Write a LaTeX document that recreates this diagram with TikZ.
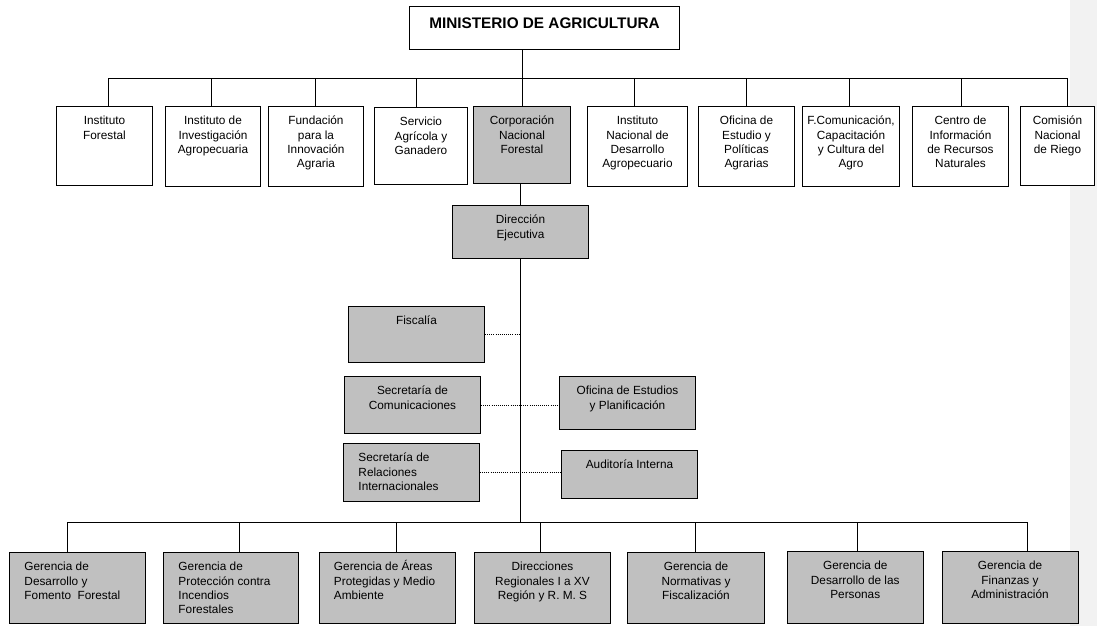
\documentclass[tikz,border=0pt]{standalone}
\usepackage{fontspec}
\setmainfont{Liberation Sans}
\usepackage{xcolor}
\usepackage{tikz}

\definecolor{cellgray}{RGB}{192,192,192}
\definecolor{margingray}{RGB}{242,242,242}
\newlength{\px}\setlength{\px}{0.025cm}
% box text: width, height (px), alignment, text
\newcommand{\cell}[4]{\parbox[c][#2\px][t]{#1\px}{#3\rule{0pt}{13pt}#4}}
\newcommand{\ctrbox}[3]{\cell{#1}{#2}{\centering}{#3}}
\newcommand{\lftbox}[3]{\cell{#1}{#2}{\raggedright\leftskip=15\px\relax}{#3}}

\tikzset{
  orgbox/.style={draw, inner sep=0pt, anchor=north west, line width=0.7pt},
  shaded/.style={orgbox, fill=cellgray},
  link/.style={line width=0.7pt},
  aux/.style={densely dotted, line width=0.5pt}
}

\begin{document}
\begin{tikzpicture}[x=0.025cm, y=-0.025cm, font=\fontsize{8.4pt}{10.2pt}\selectfont]
		\useasboundingbox (0,0) rectangle (1097,626);
		\fill[margingray] (1070,0) rectangle (1097,626);
		
		% ministerio and services
		\node[orgbox,fill=white] (mina) at (409,6) {\cell{270}{43}{\centering\vspace*{3pt}\bfseries\fontsize{10.9pt}{13pt}\selectfont}{MINISTERIO DE AGRICULTURA}};
		\node[orgbox] (t1) at (56,106) {\ctrbox{96}{79}{Instituto\\Forestal}};
		\node[orgbox] (t2) at (165,106) {\ctrbox{95}{80}{Instituto de\\Investigación\\Agropecuaria}};
		\node[orgbox] (t3) at (268,106) {\ctrbox{95}{80}{Fundación\\para la\\Innovación\\Agraria}};
		\node[orgbox] (t4) at (374,107) {\ctrbox{93}{77}{Servicio\\Agrícola y\\Ganadero}};
		\node[shaded] (t5) at (473,106) {\ctrbox{97}{77}{Corporación\\Nacional\\Forestal}};
		\node[orgbox] (t6) at (587,106) {\ctrbox{100}{80}{Instituto\\Nacional de\\Desarrollo\\Agropecuario}};
		\node[orgbox] (t7) at (698,106) {\ctrbox{96}{80}{Oficina de\\Estudio y\\Políticas\\Agrarias}};
		\node[orgbox] (t8) at (802,106) {\ctrbox{97}{80}{F.Comunicación,\\Capacitación\\y Cultura del\\Agro}};
		\node[orgbox] (t9) at (912,106) {\ctrbox{96}{80}{Centro de\\Información\\de Recursos\\Naturales}};
		\node[orgbox,fill=white] (t10) at (1020,106) {\ctrbox{74}{79}{Comisión\\Nacional\\de Riego}};
		
		% conaf
		\node[shaded] (dir) at (452,205) {\ctrbox{136}{53}{Dirección\\Ejecutiva}};
		\node[shaded] (fis) at (348,306) {\ctrbox{136}{56}{Fiscalía}};
		\node[shaded] (sc) at (344,376) {\ctrbox{136}{57}{Secretaría de\\Comunicaciones}};
		\node[shaded] (ofi) at (559,376) {\ctrbox{136}{53}{Oficina de Estudios\\y Planificación}};
		\node[shaded] (rel) at (343,443) {\lftbox{136}{58}{Secretaría de\\Relaciones\\Internacionales}};
		\node[shaded] (aud) at (561,450) {\ctrbox{136}{48}{Auditoría Interna}};
		
		\node[shaded] (b1) at (9,552) {\lftbox{136}{71}{Gerencia de\\Desarrollo y\\Fomento~ Forestal}};
		\node[shaded] (b2) at (163,552) {\lftbox{135}{71}{Gerencia de\\Protección contra\\Incendios\\Forestales}};
		\node[shaded] (b3) at (318.5,552) {\lftbox{136.5}{71}{Gerencia de Áreas\\Protegidas y Medio\\Ambiente}};
		\node[shaded] (b4) at (474,552) {\ctrbox{136}{71}{Direcciones\\Regionales I a XV\\Región y R. M. S}};
		\node[shaded] (b5) at (627,552) {\ctrbox{137}{71}{Gerencia de\\Normativas y\\Fiscalización}};
		\node[shaded] (b6) at (786.5,551) {\ctrbox{136.5}{72}{Gerencia de\\Desarrollo de las\\Personas}};
		\node[shaded] (b7) at (941.5,551) {\ctrbox{136}{72}{Gerencia de\\Finanzas y\\Administración}};
		
		% lines
		\coordinate (busL) at (108,78);
		\coordinate (busR) at (1067,78);
		\draw[link] (mina.south -| t5.north) -- (t5.north);
		\draw[link] (busL |- t1.north) -- (busL) -- (busR) -- (busR |- t10.north);
		\foreach \n/\x in {t2/211.5,t3/315,t4/416,t6/634.5,t7/746,t8/849.5,t9/961.5}
			\draw[link] (\x,78) -- (\n.north -| \x,0);
		\draw[link] (dir.north) -- (dir.north |- t5.south);
		
		\coordinate (botL) at (67,522.5);
		\coordinate (botR) at (1027.7,522.5);
		\draw[link] (dir.south) -- (dir.south |- botL);
		\draw[link] (botL |- b1.north) -- (botL) -- (botR) -- (botR |- b7.north);
		\foreach \n/\x in {b2/239,b3/396.5,b4/540,b5/695,b6/857}
			\draw[link] (\x,522.5) -- (\n.north -| \x,0);
		
		\draw[aux] (fis.east) -- (fis.east -| dir.south);
		\draw[aux] (sc.east) -- (sc.east -| ofi.west);
		\draw[aux] (rel.east) -- (rel.east -| aud.west);
	\end{tikzpicture}
\end{document}
